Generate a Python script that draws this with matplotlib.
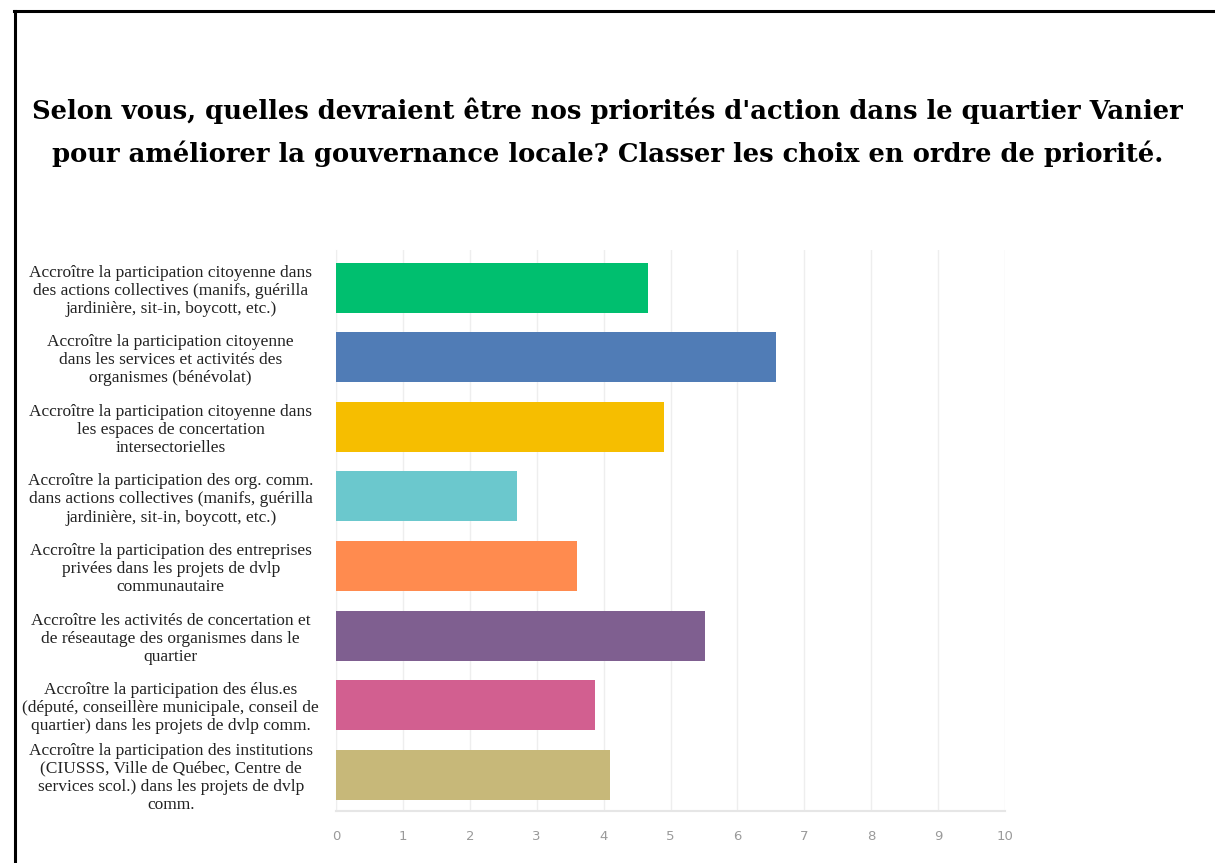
import matplotlib.pyplot as plt
from matplotlib.lines import Line2D

title = ("Selon vous, quelles devraient être nos priorités d'action dans le quartier Vanier\n"
         "pour améliorer la gouvernance locale? Classer les choix en ordre de priorité.")

labels = [
    "Accroître la participation citoyenne dans\ndes actions collectives (manifs, guérilla\njardinière, sit-in, boycott, etc.)",
    "Accroître la participation citoyenne\ndans les services et activités des\norganismes (bénévolat)",
    "Accroître la participation citoyenne dans\nles espaces de concertation\nintersectorielles",
    "Accroître la participation des org. comm.\ndans actions collectives (manifs, guérilla\njardinière, sit-in, boycott, etc.)",
    "Accroître la participation des entreprises\nprivées dans les projets de dvlp\ncommunautaire",
    "Accroître les activités de concertation et\nde réseautage des organismes dans le\nquartier",
    "Accroître la participation des élus.es\n(député, conseillère municipale, conseil de\nquartier) dans les projets de dvlp comm.",
    "Accroître la participation des institutions\n(CIUSSS, Ville de Québec, Centre de\nservices scol.) dans les projets de dvlp\ncomm.",
]
scores = [4.67, 6.57, 4.91, 2.70, 3.60, 5.52, 3.87, 4.10]
colors = ["#00BF6F", "#507CB6", "#F6BE00", "#6BC8CD",
          "#FF8B4F", "#7F5F90", "#D25F90", "#C7B879"]
xticks = list(range(0, 11))

fig = plt.figure(figsize=(12.15, 8.63), dpi=100)
fig.patch.set_facecolor("white")

# frame lines (top and left only)
fig.add_artist(Line2D([14 / 1215, 1.0], [1 - 11 / 863, 1 - 11 / 863], color="black", lw=2.2))
fig.add_artist(Line2D([15 / 1215, 15 / 1215], [0.0, 1 - 11 / 863], color="black", lw=2.2))

fig.text(0.5, 1 - 132 / 863, title, ha="center", va="center", fontsize=18.6,
         fontweight="bold", family="DejaVu Serif", linespacing=1.75)

ax = fig.add_axes([336 / 1215, 1 - 811 / 863, 669 / 1215, 561 / 863])
ypos = list(range(len(scores)))
ax.barh(ypos, scores, height=0.72, color=colors, zorder=3)
ax.set_xlim(0, 10)
ax.set_ylim(7.52, -0.54)
ax.set_xticks(xticks)
ax.set_xticklabels([str(t) for t in xticks], color="#9a9a9a", fontsize=9.5,
                   family="DejaVu Sans")
ax.set_yticks(ypos)
ax.set_yticklabels(labels, family="Liberation Serif", fontsize=12.5,
                   ha="center", multialignment="center", color="#222222",
                   linespacing=1.18)
ax.tick_params(axis="y", length=0, pad=119)
ax.tick_params(axis="x", length=0, pad=14)
ax.grid(axis="x", color="#eeeeee", lw=1, zorder=0)
for s in ["top", "right"]:
    ax.spines[s].set_visible(False)
ax.spines["bottom"].set_color("#e6e6e6")
ax.spines["left"].set_color("#eeeeee")
ax.spines["bottom"].set_linewidth(1.5)

fig.savefig("out.png", dpi=100)
